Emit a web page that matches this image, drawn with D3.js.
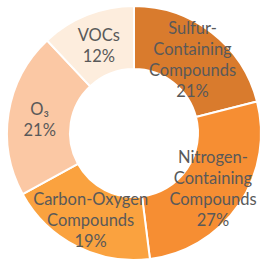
<!DOCTYPE html>
<html><head><meta charset="utf-8">
<script src="https://cdn.jsdelivr.net/npm/d3@7"></script>
<style>html,body{margin:0;padding:0;background:#fff;}</style>
</head><body><svg id="c" width="268" height="269"></svg>
<script>
const categories = ["Sulfur-Containing Compounds","Nitrogen-Containing Compounds","Carbon-Oxygen Compounds","O₃","VOCs"];
const labelLines = [["Sulfur-","Containing","Compounds"],["Nitrogen-","Containing","Compounds"],["Carbon-Oxygen","Compounds"],["O₃"],["VOCs"]];
const values = [21,27,19,21,12];
const colors = ["#D97B2D","#F68E33","#FAA23F","#FBC8A4","#FDEDDD"];

const svg = d3.select("#c");
const cx = 134, cy = 133, R = 127, r = 64;
const g = svg.append("g").attr("transform",`translate(${cx},${cy})`);
const data = categories.map((c,i)=>({c, v:values[i], lines:labelLines[i], col:colors[i]}));
const pie = d3.pie().value(d=>d.v).sort(null);
const arc = d3.arc().innerRadius(r).outerRadius(R);
const arcs = pie(data);
g.selectAll("path").data(arcs).join("path")
  .attr("d",arc).attr("fill",d=>d.data.col).attr("stroke","#fff").attr("stroke-width",2);
const lh = 21;
arcs.forEach(a=>{
  const [x,y] = arc.centroid(a);
  const lines = a.data.lines.concat([a.data.v+"%"]);
  const t = g.append("text").attr("text-anchor","middle")
    .attr("font-family","Lato, 'Open Sans', sans-serif").attr("font-size",16.5).attr("fill","#595959");
  const y0 = y + 2 - (lines.length-1)*lh/2;
  lines.forEach((l,i)=>{
    t.append("tspan").attr("x",x).attr("y",y0+i*lh).attr("dy","0.35em").text(l);
  });
});
</script></body></html>
